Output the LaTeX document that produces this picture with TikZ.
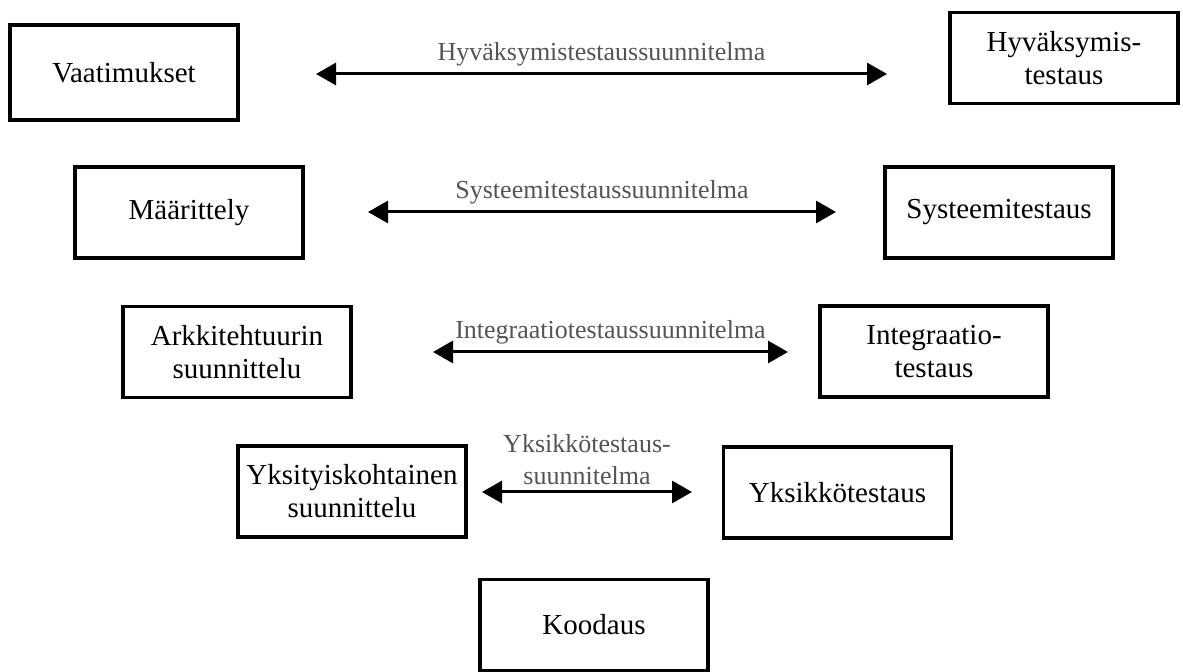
\documentclass[tikz,border=0pt]{standalone}
\usepackage{fontspec}
\setmainfont{Liberation Serif}
\usetikzlibrary{arrows.meta}

\begin{document}
\begin{tikzpicture}[x=0.5pt,y=-0.5pt,>={Triangle[length=10pt,width=11pt]},
  phase node/.style={rectangle,draw,line width=1.6pt,minimum width=114pt,
  minimum height=45.5pt,align=center,inner sep=0pt,
  font=\fontsize{14.5}{16.5}\selectfont}]
  \definecolor{labelgray}{rgb}{0.33,0.33,0.33}
  \useasboundingbox (0,0) rectangle (1183,672);

  \node[phase node,minimum height=47.5pt] (V) at (124,72.5) {Vaatimukset};
  \node[phase node] (H) at (1064,58) {Hyväksymis-\\testaus};
  \node[phase node] (M) at (189,212.5) {Määrittely};
  \node[phase node] (S) at (999,212.5) {Systeemitestaus};
  \node[phase node] (A) at (237,352) {Arkkitehtuurin\\suunnittelu};
  \node[phase node] (I) at (934,351.5) {Integraatio-\\testaus};
  \node[phase node] (Y) at (352,491.5) {Yksityiskohtainen\\suunnittelu};
  \node[phase node] (YT) at (837.5,492.5) {Yksikkötestaus};
  \node[phase node] (K) at (594,625) {Koodaus};

  % arrow ends
  \coordinate (v1) at (316,74);  \coordinate (h1) at (887,74);
  \coordinate (m1) at (368,212); \coordinate (s1) at (836,212);
  \coordinate (a1) at (433,352); \coordinate (i1) at (788,352);
  \coordinate (y1) at (482,492); \coordinate (yt1) at (692,492);

  \path[<->,line width=1.5pt,every node/.style={text=labelgray,inner sep=3pt,
    font=\fontsize{13}{16}\selectfont}]
    (v1) edge node[above] {Hyväksymistestaussuunnitelma} (h1)
    (m1) edge node[above] {Systeemitestaussuunnitelma} (s1)
    (a1) edge node[above] {Integraatiotestaussuunnitelma} (i1)
    (y1) edge node[above,align=center] {Yksikkötestaus-\\suunnitelma} (yt1);
\end{tikzpicture}
\end{document}
